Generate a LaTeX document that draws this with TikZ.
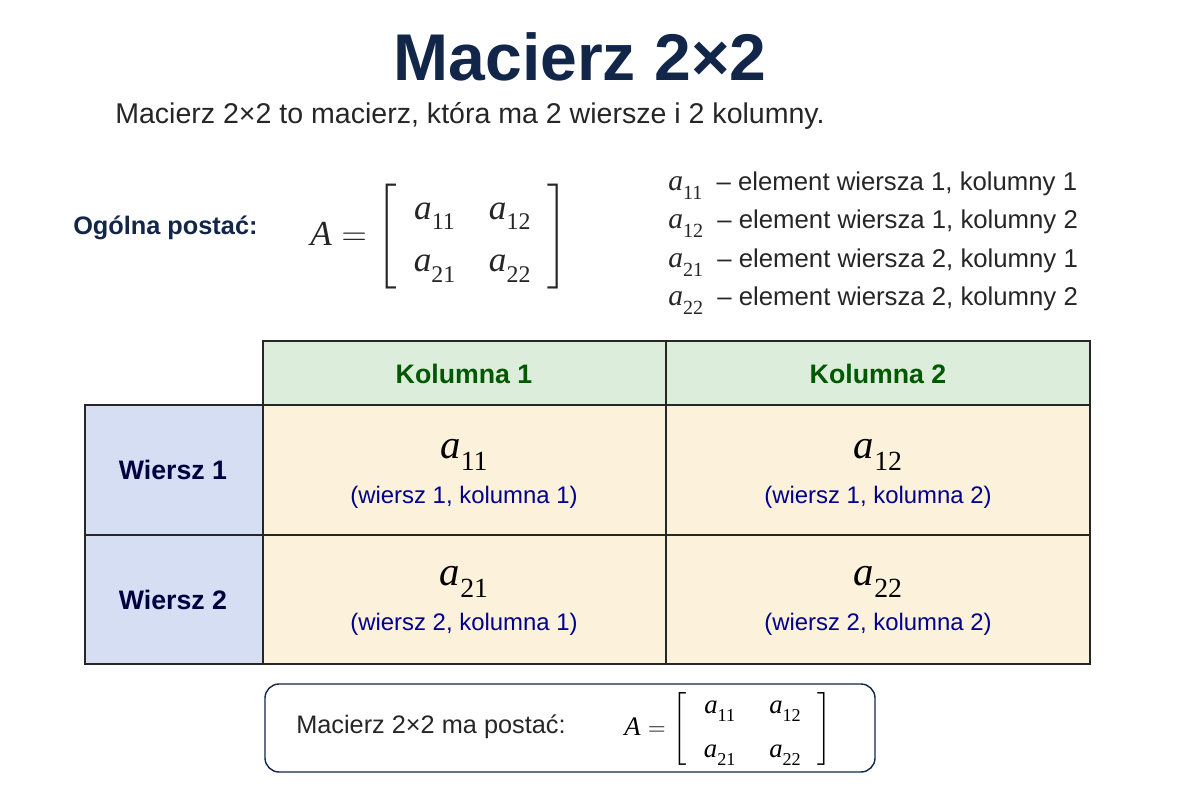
\documentclass[tikz,border=0pt]{standalone}
\usepackage{amsmath}
\usepackage{graphicx}
\usepackage{fontspec}
\setmainfont{Liberation Sans}
\newfontfamily\ser{Liberation Serif}
\newcommand\el[1]{{\ser\itshape a}\raisebox{-0.3em}{\scalebox{0.68}{\ser #1}}}
\newcommand\mtx{{\ser\itshape A}\;$=$\;$\left[\setlength{\arraycolsep}{12pt}\begin{array}{cc}\text{\el{11}} & \text{\el{12}}\\[7pt] \text{\el{21}} & \text{\el{22}}\end{array}\right]$}
\begin{document}
\begin{tikzpicture}[x=0.025cm,y=-0.025cm,
  every node/.style={inner sep=0pt},
  cell/.style={draw=black!85,line width=1pt},
  hdr/.style={font=\fontsize{19}{22}\selectfont\bfseries,text=green!35!black},
  rhdr/.style={font=\fontsize{19}{22}\selectfont\bfseries,text=blue!25!black},
  sub/.style={font=\fontsize{17}{20}\selectfont,text=blue!55!black},
  def/.style={font=\fontsize{18.3}{22}\selectfont,anchor=west,text=black!85}]
\definecolor{gfill}{HTML}{DDEDDB}
\definecolor{bfill}{HTML}{D5DEF2}
\definecolor{cfill}{HTML}{FCF2DB}
\definecolor{navy}{HTML}{12264A}
\newcommand\bigel[1]{{\fontsize{21}{24}\selectfont\el{#1}}}
\useasboundingbox[fill=white] (0,0) rectangle (1200,800);
\node[font=\fontsize{47}{52}\selectfont\bfseries,text=navy] (title) at (580,57) {Macierz 2×2};
\node[font=\fontsize{20.3}{24}\selectfont,anchor=west,text=black!85] (intro) at (115,116) {Macierz 2×2 to macierz, która ma 2 wiersze i 2 kolumny.};
\node[font=\fontsize{18}{21}\selectfont\bfseries,anchor=west,text=navy] (og) at (73,228) {Ogólna postać:};
\node[font=\fontsize{25}{30}\selectfont,anchor=west,text=black!85] (mat) at (310,237) {\mtx};
\node[def] (d1) at (668,186) {\bigel{11}\ \ – element wiersza 1, kolumny 1};
\node[def] (d2) at (668,224) {\bigel{12}\ \ – element wiersza 1, kolumny 2};
\node[def] (d3) at (668,263) {\bigel{21}\ \ – element wiersza 2, kolumny 1};
\node[def] (d4) at (668,301) {\bigel{22}\ \ – element wiersza 2, kolumny 2};
% table
\fill[gfill] (263,341) rectangle (1090,405);
\fill[bfill] (85,405) rectangle (263,664);
\fill[cfill] (263,405) rectangle (1090,664);
\draw[cell] (263,341) rectangle (1090,664);
\draw[cell] (85,405) rectangle (263,664);
\draw[cell] (263,405) -- (1090,405);
\draw[cell] (85,535) -- (1090,535);
\draw[cell] (666,341) -- (666,664);
\node[hdr] (k1) at (464,374) {Kolumna 1};
\node[hdr] (k2) at (878,374) {Kolumna 2};
\node[rhdr] (w1) at (173,470) {Wiersz 1};
\node[rhdr] (w2) at (173,600) {Wiersz 2};
\foreach \n/\x/\y/\i/\j in {c11/464/455/1/1,c12/878/455/1/2,c21/464/582/2/1,c22/878/582/2/2}{
  \node[font=\fontsize{29}{34}\selectfont] (\n) at (\x,\y) {\el{\i\j}};
  \node[sub] (\n s) at (\x,\y+42) {(wiersz \i, kolumna \j)};
}
\draw[rounded corners=10pt,line width=1pt,draw=navy] (265,684) rectangle (875,772);
\node[font=\fontsize{18}{21}\selectfont,anchor=west,text=black!85] (bt) at (296,727) {Macierz 2×2 ma postać:};
\node[font=\fontsize{19}{24}\selectfont,anchor=west] (bm) at (624,729) {\mtx};
\end{tikzpicture}
\end{document}
